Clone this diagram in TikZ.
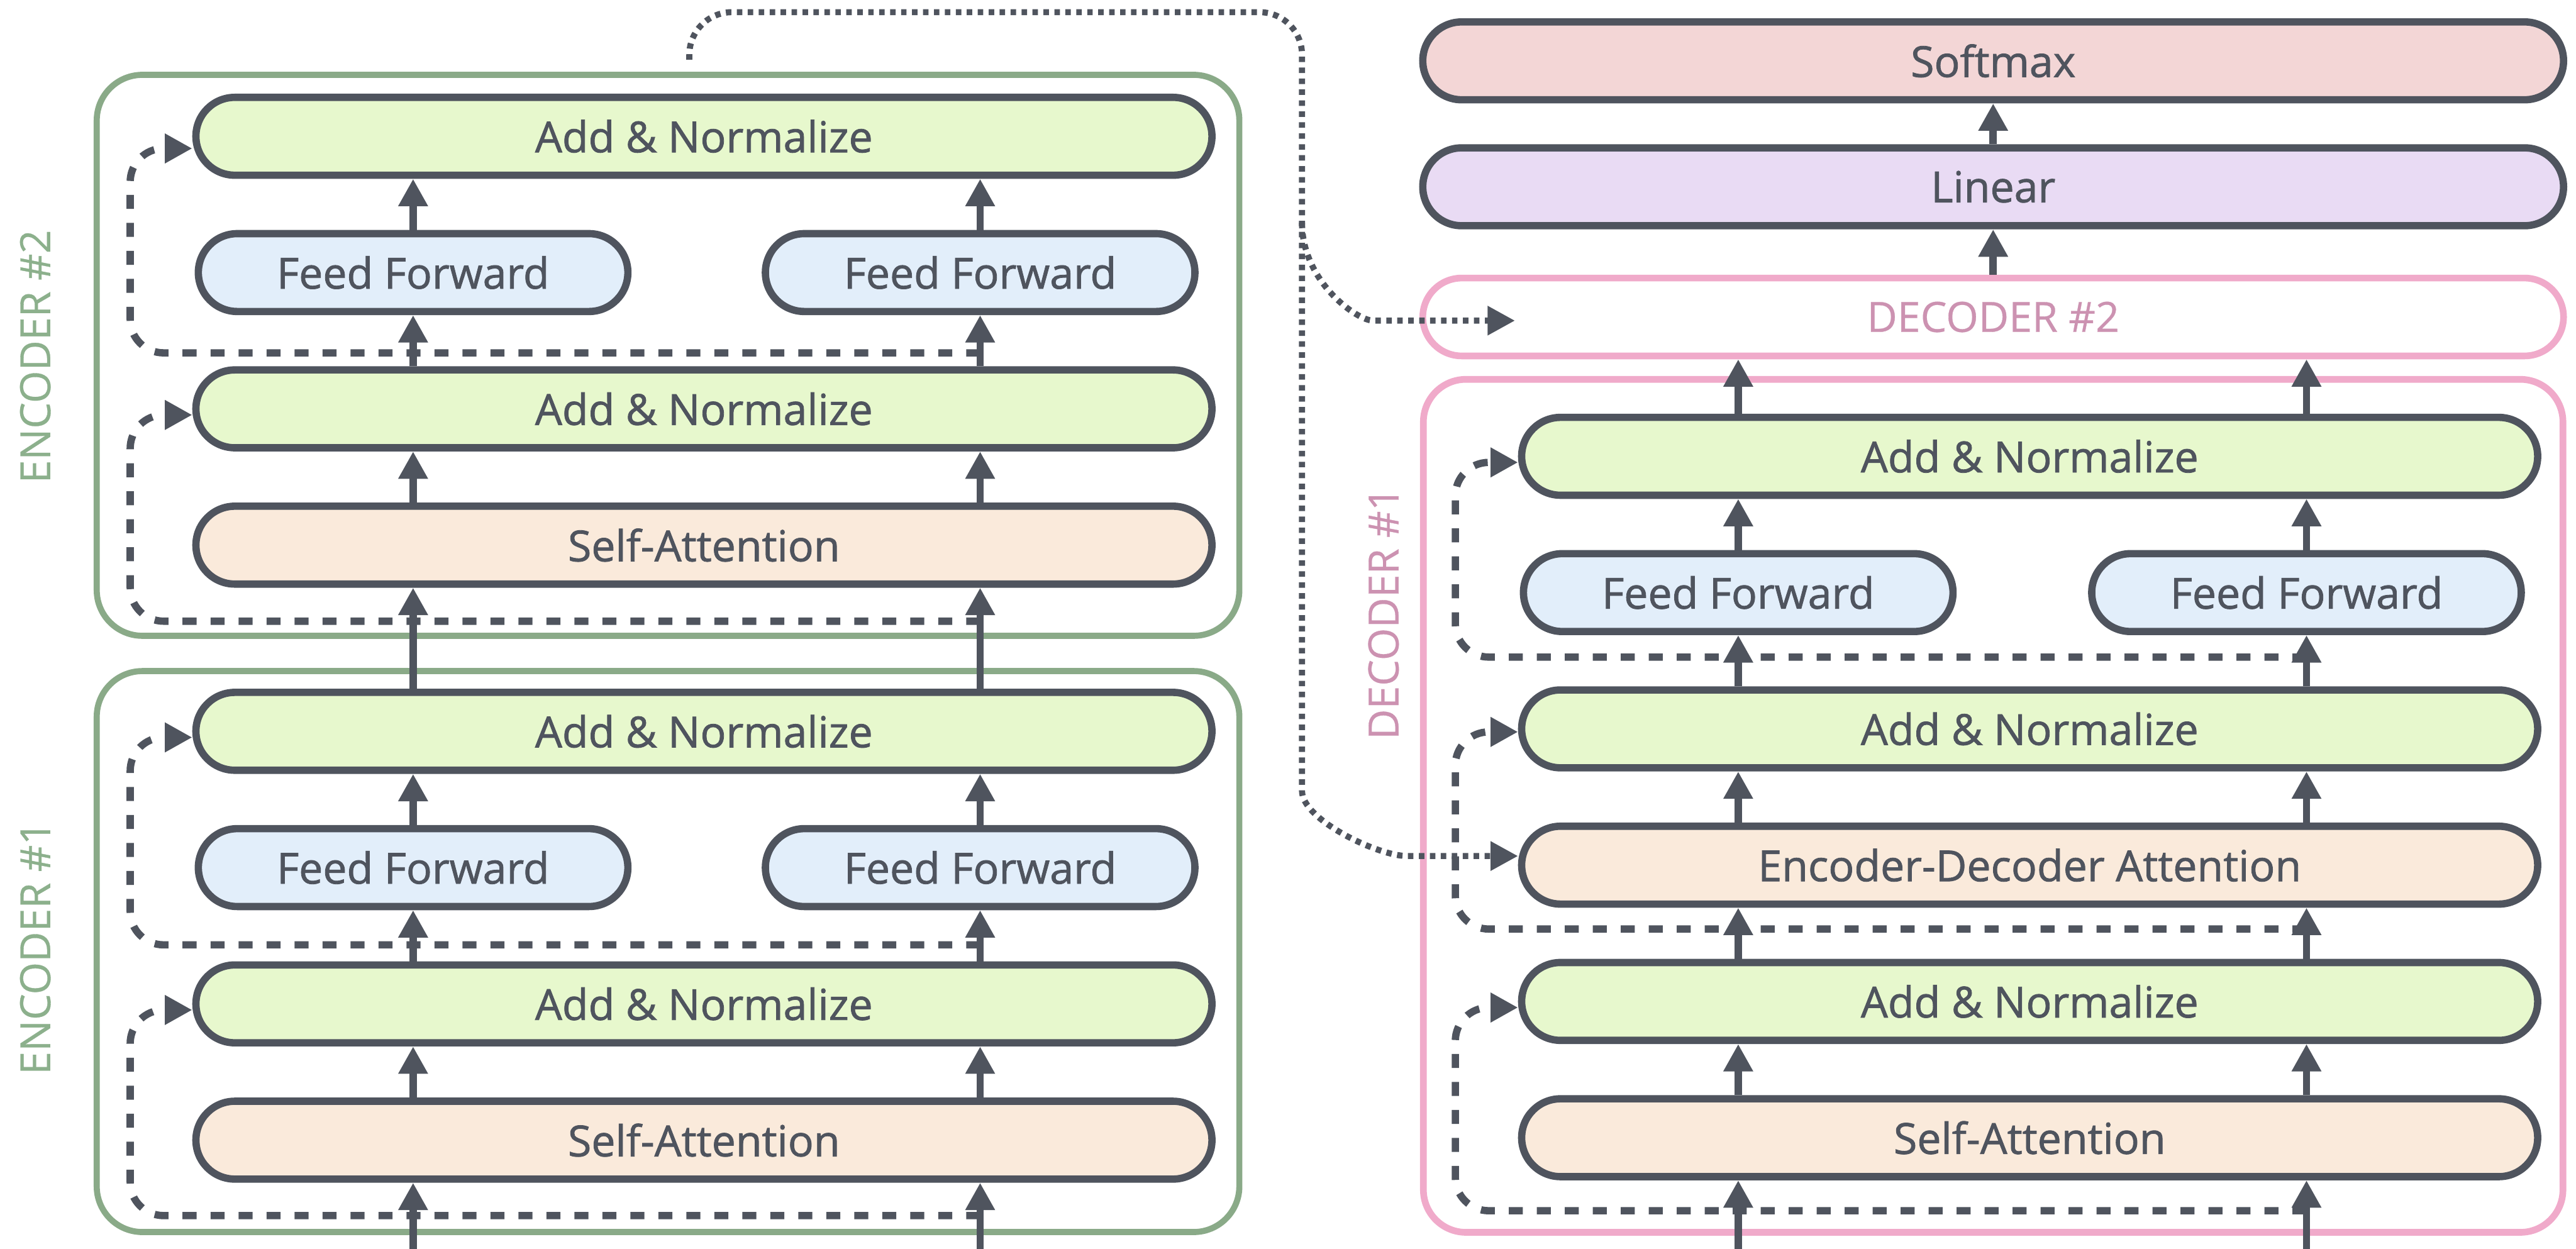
\documentclass[tikz,border=0pt]{standalone}
\usepackage{fontspec}
\setmainfont{Open Sans}
\newfontfamily\boxface{Open Sans}[FakeBold=1.2]
\newfontfamily\tagface{Open Sans}[FakeBold=0.5]
\usepackage{xcolor}
\usepackage{tikz}
\usetikzlibrary{arrows.meta}
\definecolor{boxline}{RGB}{79,84,94}
\definecolor{addfill}{RGB}{231,248,205}
\definecolor{fffill}{RGB}{226,238,250}
\definecolor{attfill}{RGB}{250,234,219}
\definecolor{smfill}{RGB}{243,214,214}
\definecolor{linfill}{RGB}{233,219,244}
\definecolor{encline}{RGB}{138,170,136}
\definecolor{enctext}{RGB}{140,176,140}
\definecolor{decline}{RGB}{240,170,202}
\definecolor{dectext}{RGB}{204,146,177}

\begin{document}
\begin{tikzpicture}[
        box/.style={draw=boxline,line width=0.12cm,rounded corners=0.64cm,minimum height=1.28cm,inner sep=0pt,text=boxline,font=\boxface\fontsize{20pt}{24pt}\selectfont},
        wide/.style={box,minimum width=16.70cm},
        half/.style={box,minimum width=7.06cm},
        addnorm/.style={wide,fill=addfill},
        selfatt/.style={wide,fill=attfill},
        feedfwd/.style={half,fill=fffill},
        topbox/.style={box,minimum width=18.75cm},
        encframe/.style={draw=encline,line width=0.1cm,rounded corners=0.75cm,minimum width=18.78cm,minimum height=9.22cm},
        stacktag/.style={rotate=90,inner sep=0pt,font=\tagface\fontsize{19.5pt}{23pt}\selectfont},
        flow/.style={-{Triangle[length=0.45cm,width=0.46cm]},line width=0.12cm,draw=boxline},
        resid/.style={flow,line width=0.12cm,dash pattern=on 0.23cm off 0.23cm,rounded corners=0.55cm},
        link/.style={flow,line width=0.1cm,dash pattern=on 0.09cm off 0.09cm,rounded corners=0.7cm}
    ]
        \useasboundingbox (0,0) rectangle (42.34,-20.52);

        % Encoder frames
        \node[encframe] (enc2) at (10.98,-5.84) {};
        \node[encframe] (enc1) at (10.98,-15.64) {};
        \node[stacktag,text=enctext] (enc2tag) at (0.58,-5.86) {ENCODER \#2};
        \node[stacktag,text=enctext] (enc1tag) at (0.58,-15.58) {ENCODER \#1};

        % Encoder #2
        \node[addnorm] (an21) at (11.57,-2.24) {Add \& Normalize};
        \node[feedfwd] (ffl2) at (6.79,-4.48) {Feed Forward};
        \node[feedfwd] (ffr2) at (16.11,-4.48) {Feed Forward};
        \node[addnorm] (an22) at (11.57,-6.72) {Add \& Normalize};
        \node[selfatt] (sa2) at (11.57,-8.96) {Self-Attention};

        % Encoder #1
        \node[addnorm] (an11) at (11.57,-12.02) {Add \& Normalize};
        \node[feedfwd] (ffl1) at (6.79,-14.26) {Feed Forward};
        \node[feedfwd] (ffr1) at (16.11,-14.26) {Feed Forward};
        \node[addnorm] (an12) at (11.57,-16.50) {Add \& Normalize};
        \node[selfatt] (sa1) at (11.57,-18.74) {Self-Attention};

        % Decoder side
        \node[topbox,fill=smfill] (softmax) at (32.76,-1.00) {Softmax};
        \node[topbox,fill=linfill] (linear) at (32.76,-3.07) {Linear};
        \node[topbox,draw=decline,line width=0.11cm,text=dectext,font=\tagface\fontsize{19.5pt}{23pt}\selectfont] (dec2) at (32.76,-5.21) {DECODER \#2};
        \node[draw=decline,line width=0.11cm,rounded corners=0.7cm,minimum width=18.73cm,minimum height=14.02cm] (dec1) at (32.76,-13.245) {};
        \node[stacktag,text=dectext] (dec1tag) at (22.74,-10.08) {DECODER \#1};

        \node[addnorm] (dan1) at (33.36,-7.50) {Add \& Normalize};
        \node[feedfwd] (dffl) at (28.57,-9.74) {Feed Forward};
        \node[feedfwd] (dffr) at (37.91,-9.74) {Feed Forward};
        \node[addnorm] (dan2) at (33.36,-11.98) {Add \& Normalize};
        \node[selfatt] (ed) at (33.36,-14.22) {Encoder-Decoder Attention};
        \node[addnorm] (dan3) at (33.36,-16.46) {Add \& Normalize};
        \node[selfatt] (dsa) at (33.36,-18.70) {Self-Attention};

        % free ends
        \coordinate (inbot) at (0,-20.62);
        \coordinate (e2lo) at (2.14,-10.21);
        \coordinate (e2mid) at (2.14,-5.80);
        \coordinate (e1lo) at (2.14,-19.98);
        \coordinate (e1mid) at (2.14,-15.53);
        \coordinate (dlo) at (23.92,-19.90);
        \coordinate (dmid) at (23.92,-15.27);
        \coordinate (dhi) at (23.92,-10.80);
        \coordinate (tap) at (11.33,-0.98);
        \coordinate (split) at (21.40,-3.66);
        \coordinate (d2in) at (24.90,-5.27);

        % Encoder #1 flow
        \draw[flow] (ffl1 |- inbot) -- (sa1.south -| ffl1);
        \draw[flow] (ffr1 |- inbot) -- (sa1.south -| ffr1);
        \draw[flow] (sa1.north -| ffl1) -- (an12.south -| ffl1);
        \draw[flow] (sa1.north -| ffr1) -- (an12.south -| ffr1);
        \draw[flow] (an12.north -| ffl1) -- (ffl1.south);
        \draw[flow] (an12.north -| ffr1) -- (ffr1.south);
        \draw[flow] (ffl1.north) -- (an11.south -| ffl1);
        \draw[flow] (ffr1.north) -- (an11.south -| ffr1);
        \draw[flow] (an11.north -| ffl1) -- (sa2.south -| ffl1);
        \draw[flow] (an11.north -| ffr1) -- (sa2.south -| ffr1);

        % Encoder #2 flow
        \draw[flow] (sa2.north -| ffl2) -- (an22.south -| ffl2);
        \draw[flow] (sa2.north -| ffr2) -- (an22.south -| ffr2);
        \draw[flow] (an22.north -| ffl2) -- (ffl2.south);
        \draw[flow] (an22.north -| ffr2) -- (ffr2.south);
        \draw[flow] (ffl2.north) -- (an21.south -| ffl2);
        \draw[flow] (ffr2.north) -- (an21.south -| ffr2);

        % Encoder residuals
        \draw[resid] (ffr1 |- e1lo) -- (e1lo) |- ([yshift=-0.1cm]an12.west);
        \draw[resid] (ffr1 |- e1mid) -- (e1mid) |- ([yshift=-0.1cm]an11.west);
        \draw[resid] (ffr2 |- e2lo) -- (e2lo) |- ([yshift=-0.1cm]an22.west);
        \draw[resid] (ffr2 |- e2mid) -- (e2mid) |- ([yshift=-0.2cm]an21.west);

        % Decoder flow
        \draw[flow] (dffl |- inbot) -- (dsa.south -| dffl);
        \draw[flow] (dffr |- inbot) -- (dsa.south -| dffr);
        \draw[flow] (dsa.north -| dffl) -- (dan3.south -| dffl);
        \draw[flow] (dsa.north -| dffr) -- (dan3.south -| dffr);
        \draw[flow] (dan3.north -| dffl) -- (ed.south -| dffl);
        \draw[flow] (dan3.north -| dffr) -- (ed.south -| dffr);
        \draw[flow] (ed.north -| dffl) -- (dan2.south -| dffl);
        \draw[flow] (ed.north -| dffr) -- (dan2.south -| dffr);
        \draw[flow] (dan2.north -| dffl) -- (dffl.south);
        \draw[flow] (dan2.north -| dffr) -- (dffr.south);
        \draw[flow] (dffl.north) -- (dan1.south -| dffl);
        \draw[flow] (dffr.north) -- (dan1.south -| dffr);
        \draw[flow] (dan1.north -| dffl) -- (dec2.south -| dffl);
        \draw[flow] (dan1.north -| dffr) -- (dec2.south -| dffr);
        \draw[flow] (dec2.north -| linear) -- (linear.south);
        \draw[flow] (linear.north) -- (softmax.south);

        % Decoder residuals
        \draw[resid] (dffr |- dlo) -- (dlo) |- ([yshift=-0.1cm]dan3.west);
        \draw[resid] (dffr |- dmid) -- (dmid) |- ([yshift=-0.05cm]dan2.west);
        \draw[resid] (dffr |- dhi) -- (dhi) |- ([yshift=-0.1cm]dan1.west);

        % Encoder output to decoders
        \draw[link] (tap) |- (21.40,-0.20) -- (21.40,-12.30) to[out=-90,in=180] (23.83,-14.07) -- ([yshift=0.15cm]ed.west);
        \draw[link] (split) to[out=-90,in=180] (23.27,-5.27) -- (d2in);
    \end{tikzpicture}
\end{document}
